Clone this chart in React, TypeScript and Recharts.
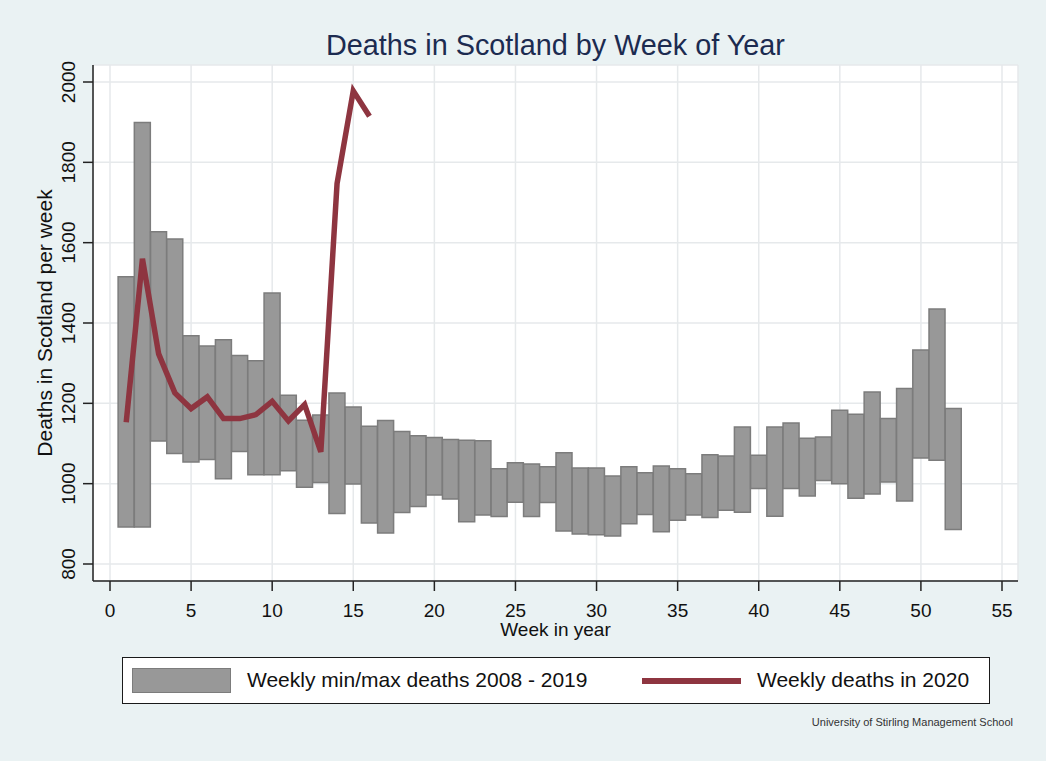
import React from 'react';
import {
  ComposedChart,
  Bar,
  Line,
  XAxis,
  YAxis,
  CartesianGrid,
  Legend,
  Label,
} from 'recharts';

// weeks of the year
const weeks = [
  1, 2, 3, 4, 5, 6, 7, 8, 9, 10, 11, 12, 13, 14, 15, 16, 17, 18, 19, 20, 21, 22, 23, 24, 25, 26,
  27, 28, 29, 30, 31, 32, 33, 34, 35, 36, 37, 38, 39, 40, 41, 42, 43, 44, 45, 46, 47, 48, 49, 50, 51, 52,
];

// weekly minimum deaths 2008 - 2019
const minDeaths = [
  892, 892, 1106, 1075, 1054, 1060, 1012, 1080, 1022, 1022, 1032, 991, 1003, 926, 999, 902, 877, 928,
  943, 972, 962, 905, 922, 918, 954, 918, 953, 882, 875, 873, 870, 900, 923, 880, 909, 922, 916, 934,
  929, 988, 919, 988, 969, 1008, 1000, 964, 974, 1004, 957, 1064, 1058, 886,
];

// weekly maximum deaths 2008 - 2019
const maxDeaths = [
  1515, 1899, 1627, 1609, 1368, 1343, 1358, 1319, 1306, 1475, 1220, 1158, 1171, 1226, 1191, 1143, 1157,
  1130, 1119, 1115, 1110, 1108, 1107, 1037, 1052, 1049, 1042, 1077, 1039, 1039, 1019, 1042, 1027, 1044,
  1037, 1025, 1072, 1069, 1141, 1071, 1141, 1151, 1113, 1116, 1183, 1173, 1228, 1162, 1237, 1333, 1435,
  1187,
];

// weekly deaths 2020 (weeks 1-16)
const deaths2020 = [
  1153, 1560, 1323, 1226, 1187, 1216, 1162, 1162, 1172, 1205, 1156, 1197, 1079, 1747, 1978, 1915,
];

const xTicks = [0, 5, 10, 15, 20, 25, 30, 35, 40, 45, 50, 55];
const yTicks = [800, 1000, 1200, 1400, 1600, 1800, 2000];

const data = weeks.map((w, i) => ({
  week: w,
  range: [minDeaths[i], maxDeaths[i]],
  d2020: i < deaths2020.length ? deaths2020[i] : null,
}));

const FONT = '"Liberation Sans", Arial, Helvetica, sans-serif';
const BAR_FILL = '#989898';
const BAR_STROKE = '#7c7c7c';
const LINE_COLOR = '#8e3540';
const AXIS_COLOR = '#222';

const XTick = (props: any) => {
  const { x, y, payload } = props;
  return (
    <text x={x} y={y + 24} textAnchor="middle" fontSize={19} fill="#111" fontFamily={FONT}>
      {payload.value}
    </text>
  );
};

const YTick = (props: any) => {
  const { y, payload } = props;
  return (
    <text
      x={75}
      y={y}
      transform={`rotate(-90, 75, ${y})`}
      textAnchor="middle"
      fontSize={19}
      fill="#111"
      fontFamily={FONT}
    >
      {payload.value}
    </text>
  );
};

const renderLegend = (props: any) => {
  const { payload } = props;
  const bar = payload.find((p: any) => p.dataKey === 'range');
  const line = payload.find((p: any) => p.dataKey === 'd2020');
  return (
    <div
      style={{
        position: 'relative',
        width: 868,
        height: 47,
        boxSizing: 'border-box',
        border: '1.5px solid #1a1a1a',
        background: '#fff',
        fontFamily: FONT,
        fontSize: 21,
        color: '#111',
      }}
    >
      <div
        style={{
          position: 'absolute',
          left: 9,
          top: 10,
          width: 99,
          height: 25,
          boxSizing: 'border-box',
          background: BAR_FILL,
          border: `1.5px solid ${BAR_STROKE}`,
        }}
      />
      <div style={{ position: 'absolute', left: 124, top: 10, lineHeight: '24px', whiteSpace: 'nowrap' }}>
        {bar ? bar.value : ''}
      </div>
      <div
        style={{
          position: 'absolute',
          left: 519,
          top: 20,
          width: 99,
          height: 5.5,
          background: LINE_COLOR,
        }}
      />
      <div style={{ position: 'absolute', left: 634, top: 10, lineHeight: '24px', whiteSpace: 'nowrap' }}>
        {line ? line.value : ''}
      </div>
    </div>
  );
};

export default function App() {
  return (
    <div
      style={{
        position: 'absolute',
        left: 0,
        top: 0,
        width: 1046,
        height: 761,
        background: '#eaf2f3',
        fontFamily: FONT,
      }}
    >
      <div
        style={{
          position: 'absolute',
          left: 93,
          width: 925,
          top: 31,
          textAlign: 'center',
          fontSize: 28.8,
          lineHeight: '28px',
          color: '#1c2b50',
        }}
      >
        Deaths in Scotland by Week of Year
      </div>
      <ComposedChart
        width={1046}
        height={761}
        data={data}
        margin={{ top: 65, right: 28, bottom: 120, left: 0 }}
        barCategoryGap={0}
        barGap={0}
      >
        <CartesianGrid fill="#ffffff" stroke="#e6e9eb" strokeWidth={1.5} />
        <XAxis
          dataKey="week"
          type="number"
          domain={[0, 55]}
          ticks={xTicks}
          padding={{ left: 17, right: 16 }}
          height={60}
          tick={<XTick />}
          tickSize={10}
          tickLine={{ stroke: AXIS_COLOR, strokeWidth: 1.5 }}
          axisLine={{ stroke: AXIS_COLOR, strokeWidth: 1.5 }}
          interval={0}
        >
          <Label
            content={(p: any) => {
              const vb = p.viewBox;
              return (
                <text
                  x={vb.x + vb.width / 2}
                  y={vb.y + 55}
                  textAnchor="middle"
                  fontSize={19}
                  fill="#111"
                  fontFamily={FONT}
                >
                  Week in year
                </text>
              );
            }}
          />
        </XAxis>
        <YAxis
          type="number"
          domain={[800, 2000]}
          ticks={yTicks}
          padding={{ top: 17, bottom: 17 }}
          width={93}
          tick={<YTick />}
          tickSize={10}
          tickLine={{ stroke: AXIS_COLOR, strokeWidth: 1.5 }}
          axisLine={{ stroke: AXIS_COLOR, strokeWidth: 1.5 }}
          interval={0}
        >
          <Label
            content={(p: any) => {
              const vb = p.viewBox;
              const cy = vb.y + vb.height / 2;
              return (
                <text
                  x={52}
                  y={cy}
                  transform={`rotate(-90, 52, ${cy})`}
                  textAnchor="middle"
                  fontSize={21}
                  fill="#111"
                  fontFamily={FONT}
                >
                  Deaths in Scotland per week
                </text>
              );
            }}
          />
        </YAxis>
        <Legend
          layout="vertical"
          align="center"
          verticalAlign="middle"
          content={renderLegend}
          wrapperStyle={{ left: 122, top: 657, width: 868, height: 47 }}
        />
        <Bar
          dataKey="range"
          name="Weekly min/max deaths 2008 - 2019"
          fill={BAR_FILL}
          stroke={BAR_STROKE}
          strokeWidth={1.5}
          isAnimationActive={false}
        />
        <Line
          dataKey="d2020"
          name="Weekly deaths in 2020"
          type="linear"
          stroke={LINE_COLOR}
          strokeWidth={5.5}
          dot={false}
          activeDot={false}
          connectNulls={false}
          isAnimationActive={false}
        />
      </ComposedChart>
      <div
        style={{
          position: 'absolute',
          right: 33,
          top: 716,
          fontSize: 11,
          lineHeight: '13px',
          color: '#333',
          whiteSpace: 'nowrap',
        }}
      >
        University of Stirling Management School
      </div>
    </div>
  );
}
